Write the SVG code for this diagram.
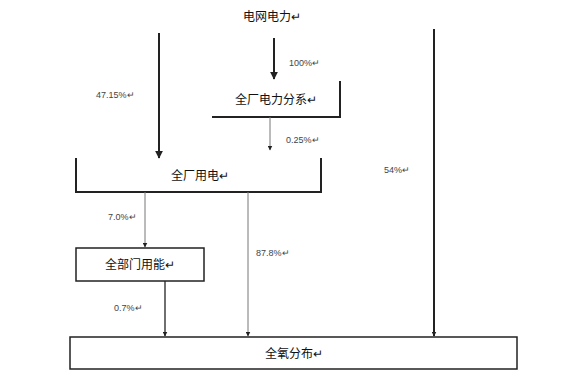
<svg xmlns="http://www.w3.org/2000/svg" width="562" height="380" viewBox="0 0 562 380">
<style>
.n{font-family:"Noto Sans CJK SC","Liberation Sans",sans-serif;font-size:12px;fill:#111;text-anchor:middle}
.l{font-family:"Liberation Sans","Noto Sans CJK SC",sans-serif;font-size:9px;fill:#444}
.thick{stroke:#222;stroke-width:2;fill:none}
.thin{stroke:#777;stroke-width:1;fill:none}
.box{stroke:#222;stroke-width:1.5;fill:#fff}
</style>
<defs>
<marker id="a" viewBox="0 0 10 10" refX="9" refY="5" markerWidth="5" markerHeight="5" orient="auto" markerUnits="userSpaceOnUse">
<path d="M0,0 L10,5 L0,10 z" fill="#222"/>
</marker>
<marker id="b" viewBox="0 0 10 10" refX="9" refY="5" markerWidth="8" markerHeight="8" orient="auto" markerUnits="userSpaceOnUse">
<path d="M0,0 L10,5 L0,10 z" fill="#222"/>
</marker>
</defs>
<rect width="562" height="380" fill="#fff"/>
<g id="n1"><text class="n" x="272" y="21">电网电力↵</text></g>
<g id="n2">
<path class="thick" d="M212,117 H340 V81"/>
<text class="n" x="276" y="104">全厂电力分系↵</text>
</g>
<g id="n3">
<path class="thick" d="M76,158 V192 H321 V158"/>
<text class="n" x="200" y="180">全厂用电↵</text>
</g>
<g id="n4">
<rect class="box" x="76" y="248" width="128" height="33"/>
<text class="n" x="140" y="269">全部门用能↵</text>
</g>
<g id="n5">
<rect class="box" x="70" y="337" width="447" height="32"/>
<text class="n" x="294" y="358">全氧分布↵</text>
</g>
<g id="connectors">
<line class="thick" x1="274" y1="38" x2="274" y2="79" marker-end="url(#b)"/>
<line class="thick" x1="159" y1="33" x2="159" y2="158" marker-end="url(#b)"/>
<line class="thin" x1="270" y1="117" x2="270" y2="150" marker-end="url(#a)"/>
<line class="thin" x1="145" y1="192" x2="145" y2="247" marker-end="url(#a)"/>
<line class="thin" x1="248" y1="192" x2="248" y2="336" marker-end="url(#a)"/>
<line class="thick" style="stroke-width:1.3" x1="165" y1="281" x2="165" y2="336" marker-end="url(#a)"/>
<line class="thick" x1="434" y1="29" x2="434" y2="336" marker-end="url(#a)"/>
</g>
<g id="labels">
<text class="l" x="289" y="66">100%↵</text>
<text class="l" x="286" y="143">0.25%↵</text>
<text class="l" x="96" y="98">47.15%↵</text>
<text class="l" x="108" y="220">7.0%↵</text>
<text class="l" x="114" y="311">0.7%↵</text>
<text class="l" x="256" y="256">87.8%↵</text>
<text class="l" x="384" y="173">54%↵</text>
</g>
</svg>
